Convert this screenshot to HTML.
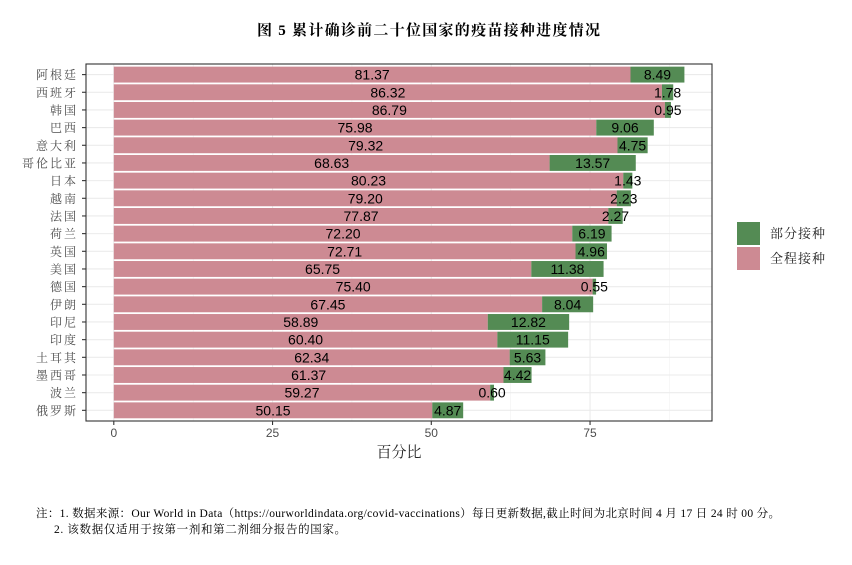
<!DOCTYPE html>
<html><head><meta charset="utf-8"><style>
html,body{margin:0;padding:0;background:#fff;}
svg{display:block;}
</style></head><body>
<svg id="c" width="852" height="565" xmlns="http://www.w3.org/2000/svg">
<rect width="852" height="565" fill="#fff"/>
<text x="257" y="35" textLength="343" lengthAdjust="spacing" font-family="'Liberation Serif','Noto Serif CJK SC','Noto Sans CJK SC',serif" font-size="15" font-weight="bold" fill="#000">图 5  累计确诊前二十位国家的疫苗接种进度情况</text>
<g id="g"></g>
<rect x="737" y="222" width="23" height="23" fill="#548B54"/>
<rect x="737" y="247" width="23" height="23" fill="#CD8A93"/>
<text x="770" y="238" letter-spacing="1" font-family="'Liberation Serif','Noto Serif CJK SC',serif" font-size="13" fill="#222">部分接种</text>
<text x="770" y="263" letter-spacing="1" font-family="'Liberation Serif','Noto Serif CJK SC',serif" font-size="13" fill="#222">全程接种</text>
<text x="399" y="457" text-anchor="middle" font-family="'Liberation Serif','Noto Serif CJK SC',serif" font-size="15" fill="#222">百分比</text>
<text x="36" y="517" textLength="744" lengthAdjust="spacing" font-family="'Liberation Serif','Noto Serif CJK SC',serif" font-size="11.5" fill="#000">注：1. 数据来源：Our World in Data（https://ourworldindata.org/covid-vaccinations）每日更新数据,截止时间为北京时间 4 月 17 日 24 时 00 分。</text>
<text x="54" y="533" textLength="292" lengthAdjust="spacing" font-family="'Liberation Serif','Noto Serif CJK SC',serif" font-size="11.5" fill="#000">2. 该数据仅适用于按第一剂和第二剂细分报告的国家。</text>
</svg>
<script>
var d=[["阿根廷",81.37,8.49],["西班牙",86.32,1.78],["韩国",86.79,0.95],["巴西",75.98,9.06],["意大利",79.32,4.75],["哥伦比亚",68.63,13.57],["日本",80.23,1.43],["越南",79.20,2.23],["法国",77.87,2.27],["荷兰",72.20,6.19],["英国",72.71,4.96],["美国",65.75,11.38],["德国",75.40,0.55],["伊朗",67.45,8.04],["印尼",58.89,12.82],["印度",60.40,11.15],["土耳其",62.34,5.63],["墨西哥",61.37,4.42],["波兰",59.27,0.60],["俄罗斯",50.15,4.87]];
var s=6.35,x0=113.8,L=86,R=712,T=64,B=421,h=17.67,y0=74.6;
var o='';
o+='<rect x="'+L+'" y="'+T+'" width="'+(R-L)+'" height="'+(B-T)+'" fill="#fff"/>';
[12.5,37.5,62.5,87.5].forEach(function(v){var x=x0+v*s;o+='<line x1="'+x+'" x2="'+x+'" y1="'+T+'" y2="'+B+'" stroke="#f2f2f2" stroke-width="0.6"/>';});
[0,25,50,75].forEach(function(v){var x=x0+v*s;o+='<line x1="'+x+'" x2="'+x+'" y1="'+T+'" y2="'+B+'" stroke="#ebebeb" stroke-width="1.1"/>';});
d.forEach(function(r,i){var y=y0+i*h;o+='<line x1="'+L+'" x2="'+R+'" y1="'+y+'" y2="'+y+'" stroke="#ebebeb" stroke-width="1.1"/>';});
d.forEach(function(r,i){var y=y0+i*h,bh=15.9;
o+='<rect x="'+x0+'" y="'+(y-bh/2)+'" width="'+(r[1]*s)+'" height="'+bh+'" fill="#CD8A93"/>';
o+='<rect x="'+(x0+r[1]*s)+'" y="'+(y-bh/2)+'" width="'+(r[2]*s)+'" height="'+bh+'" fill="#548B54"/>';
o+='<text x="'+(x0+r[1]*s/2)+'" y="'+(y+5)+'" text-anchor="middle" font-family="Liberation Sans,sans-serif" font-size="14" fill="#000">'+r[1].toFixed(2)+'</text>';
o+='<text x="'+(x0+(r[1]+r[2]/2)*s)+'" y="'+(y+5)+'" text-anchor="middle" font-family="Liberation Sans,sans-serif" font-size="14" fill="#000">'+r[2].toFixed(2)+'</text>';
o+='<line x1="'+(L-4)+'" x2="'+L+'" y1="'+y+'" y2="'+y+'" stroke="#333" stroke-width="1.1"/>';
o+='<text x="'+(L-8)+'" y="'+(y+4.5)+'" text-anchor="end" letter-spacing="2" font-family="Liberation Serif,Noto Serif CJK SC,serif" font-size="12" fill="#4d4d4d">'+r[0]+'</text>';
});
o+='<rect x="'+L+'" y="'+T+'" width="'+(R-L)+'" height="'+(B-T)+'" fill="none" stroke="#333" stroke-width="1.1"/>';
[0,25,50,75].forEach(function(v){var x=x0+v*s;o+='<line x1="'+x+'" x2="'+x+'" y1="'+B+'" y2="'+(B+4)+'" stroke="#333" stroke-width="1.1"/><text x="'+x+'" y="'+(B+16)+'" text-anchor="middle" font-family="Liberation Sans,sans-serif" font-size="12" fill="#4d4d4d">'+v+'</text>';});
document.getElementById('g').innerHTML=o;
</script>
</body></html>
